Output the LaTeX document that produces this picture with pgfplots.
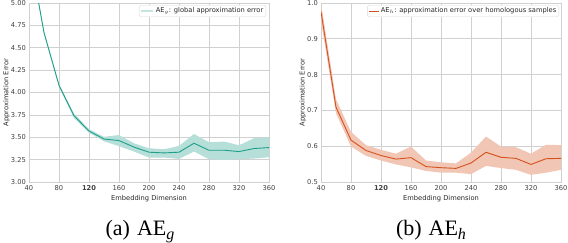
\documentclass[border=0pt]{standalone}
\usepackage{pgfplots}
\pgfplotsset{compat=1.18}
\usepackage{pgfplotstable}
\usepgfplotslibrary{fillbetween}
\usepackage{fontspec}
\setmainfont{DejaVu Sans}
\newfontfamily\capfont{Liberation Serif}
\newcommand{\fs}{\fontsize{6.7}{8}\selectfont}
\definecolor{tealline}{HTML}{1F9E8A}
\definecolor{tealband}{HTML}{B5DFD8}
\definecolor{orline}{HTML}{D6501C}
\definecolor{orband}{HTML}{F2C6B4}
\definecolor{gridc}{HTML}{D0D0D0}

% dim mean upper lower
\pgfplotstableread{
d m u l
40 5.60 5.61 5.59
60 4.67 4.685 4.655
80 4.08 4.095 4.065
100 3.74 3.765 3.715
120 3.57 3.59 3.55
140 3.48 3.505 3.455
160 3.463 3.525 3.40
180 3.39 3.433 3.34
200 3.333 3.377 3.273
220 3.325 3.366 3.273
240 3.333 3.403 3.258
260 3.433 3.537 3.34
280 3.355 3.444 3.255
300 3.355 3.452 3.247
320 3.34 3.41 3.255
340 3.374 3.489 3.262
360 3.385 3.50 3.277
}\tabg

\pgfplotstableread{
d m u l
40 0.976 1.0 0.95
60 0.709 0.731 0.692
80 0.617 0.640 0.599
100 0.588 0.603 0.573
120 0.574 0.590 0.560
140 0.564 0.579 0.549
160 0.568 0.599 0.541
180 0.543 0.560 0.531
200 0.540 0.555 0.526
220 0.538 0.552 0.526
240 0.553 0.582 0.522
260 0.583 0.627 0.545
280 0.569 0.599 0.539
300 0.566 0.597 0.534
320 0.549 0.579 0.520
340 0.565 0.604 0.526
360 0.566 0.603 0.534
}\tabh

\pgfplotsset{
  myax/.style={
    scale only axis, width=240pt, height=179pt,
    xmin=40, xmax=360, xtick={40,80,...,360},
    xticklabels={40,80,\textbf{120},160,200,240,280,320,360},
    grid=major, grid style={draw=gridc, line width=0.7pt},
    axis line style={draw=gridc, line width=0.7pt},
    tick style={draw=none},
    /pgf/number format/assume math mode=true,
    tick label style={font=\fs, text=black!75},
    xticklabel style={inner sep=1pt, yshift=-2pt},
    yticklabel style={inner sep=1pt, xshift=-2pt},
    label style={font=\fs, text=black!85},
    xlabel={Embedding Dimension},
    ylabel={Approximation Error},
    xlabel style={inner sep=1pt, yshift=-3pt},
    ylabel style={inner sep=1pt, yshift=-1pt},
    legend style={font=\fs, draw=black!15, rounded corners=1.5pt, inner sep=1pt,
      row sep=0pt, at={(1,1)}, anchor=north east, yshift=-2pt,
      nodes={inner sep=1.5pt, text=black!85}},
    legend cell align=left,
    clip=true,
  }
}

\begin{document}
\begin{tikzpicture}
\begin{axis}[myax, ymin=3, ymax=5, ytick={3,3.25,...,5.01},
  yticklabel style={/pgf/number format/fixed, /pgf/number format/fixed zerofill, /pgf/number format/precision=2},
  legend style={xshift=-3pt}]
\addplot[name path=gu, draw=none, forget plot] table[x=d, y=u] {\tabg};
\addplot[name path=gl, draw=none, forget plot] table[x=d, y=l] {\tabg};
\addplot[tealband, draw=none, forget plot] fill between[of=gu and gl];
\addplot[tealline, line width=0.9pt, forget plot] table[x=d, y=m] {\tabg};
\addlegendimage{legend image code/.code={\draw[tealband!80, line width=2.2pt] (0pt,0pt) -- (12pt,0pt);}}
\addlegendentry{AE$_g$: global approximation error}
\end{axis}

\begin{axis}[myax, at={(292pt,0pt)}, ymin=0.5, ymax=1.0, ytick={0.5,0.6,...,1.01},
  yticklabel style={/pgf/number format/fixed, /pgf/number format/fixed zerofill, /pgf/number format/precision=1},
  legend style={xshift=-2pt}]
\addplot[name path=hu, draw=none, forget plot] table[x=d, y=u] {\tabh};
\addplot[name path=hl, draw=none, forget plot] table[x=d, y=l] {\tabh};
\addplot[orband, draw=none, forget plot] fill between[of=hu and hl];
\addplot[orline, line width=0.9pt, forget plot] table[x=d, y=m] {\tabh};
\addlegendimage{legend image code/.code={\draw[orline, line width=0.9pt] (0pt,0pt) -- (10pt,0pt);}}
\addlegendentry{AE$_h$: approximation error over homologous samples}
\end{axis}

\node[font=\capfont\fontsize{22}{26}\selectfont, anchor=base] at (111pt,-53pt)
  {(a)\hspace{7pt}AE\raisebox{-4pt}{\fontsize{16}{16}\selectfont\itshape g}};
\node[font=\capfont\fontsize{22}{26}\selectfont, anchor=base] at (402pt,-53pt)
  {(b)\hspace{7pt}AE\raisebox{-4pt}{\fontsize{16}{16}\selectfont\itshape h}};

\pgfresetboundingbox
\path (-29pt,-60pt) rectangle (539pt,182pt);
\end{tikzpicture}
\end{document}
